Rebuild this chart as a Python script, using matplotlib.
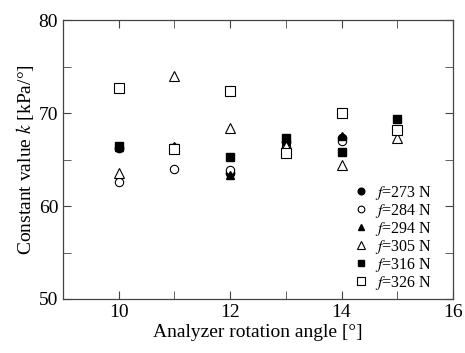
import matplotlib
matplotlib.use('Agg')
import matplotlib.pyplot as plt
from matplotlib.ticker import MultipleLocator

#Settings
plt.rcParams['font.family'] = ['Liberation Serif', 'DejaVu Serif']
plt.rcParams['mathtext.fontset'] = 'stix'

#Data
angles = [10, 11, 12, 13, 14]
angles15 = [10, 11, 12, 13, 14, 15]
k273 = [66.2, 66.2, 63.6, 66.9, 67.3]
k284 = [62.6, 64.0, 63.9, 66.3, 67.0]
k294 = [66.3, 66.5, 63.3, 67.0, 67.5]
k305 = [63.6, 74.0, 68.4, 66.5, 64.4, 67.3]
k316 = [66.5, 66.2, 65.3, 67.3, 65.8, 69.4]
k326 = [72.7, 66.1, 72.4, 65.7, 70.0, 68.2]
labels = ["273", "284", "294", "305", "316", "326"]

fig = plt.figure(figsize=(4.65, 3.53), dpi=100)
ax = fig.add_axes([0.1355, 0.153, 0.8385, 0.79])

ms = 6
ax.plot(angles, k273, 'o', color='black', ms=ms, ls='none', label="$f$=%s N" % labels[0])
ax.plot(angles, k284, 'o', mfc='white', mec='black', mew=0.8, ms=ms, ls='none', label="$f$=%s N" % labels[1])
ax.plot(angles, k294, '^', color='black', ms=ms, ls='none', label="$f$=%s N" % labels[2])
ax.plot(angles15, k305, '^', mfc='white', mec='black', mew=0.8, ms=ms + 1, ls='none', label="$f$=%s N" % labels[3])
ax.plot(angles15, k316, 's', color='black', ms=ms, ls='none', label="$f$=%s N" % labels[4])
ax.plot(angles15, k326, 's', mfc='white', mec='black', mew=0.8, ms=ms + 1, ls='none', label="$f$=%s N" % labels[5])

ax.set_xlim(9, 16)
ax.set_ylim(50, 80)
ax.xaxis.set_major_locator(MultipleLocator(2))
ax.xaxis.set_minor_locator(MultipleLocator(1))
ax.yaxis.set_major_locator(MultipleLocator(10))
ax.yaxis.set_minor_locator(MultipleLocator(5))
ax.tick_params(which='both', direction='in', top=True, right=True, labelsize=14, color='#444444')
ax.tick_params(which='major', length=6)
ax.tick_params(which='minor', length=6)
for s in ax.spines.values():
    s.set_color('#444444')
    s.set_linewidth(0.9)

ax.set_xlabel("Analyzer rotation angle [°]", fontsize=14, labelpad=2)
ax.set_ylabel("Constant value $k$ [kPa/°]", fontsize=14, labelpad=2)

ax.legend(loc='lower right', bbox_to_anchor=(0.975, -0.015), frameon=False, fontsize=11.5,
          handletextpad=0.4, labelspacing=0.0, borderaxespad=0.3, handlelength=1.0,
          markerscale=0.8)

plt.savefig("out.png", dpi=100)
